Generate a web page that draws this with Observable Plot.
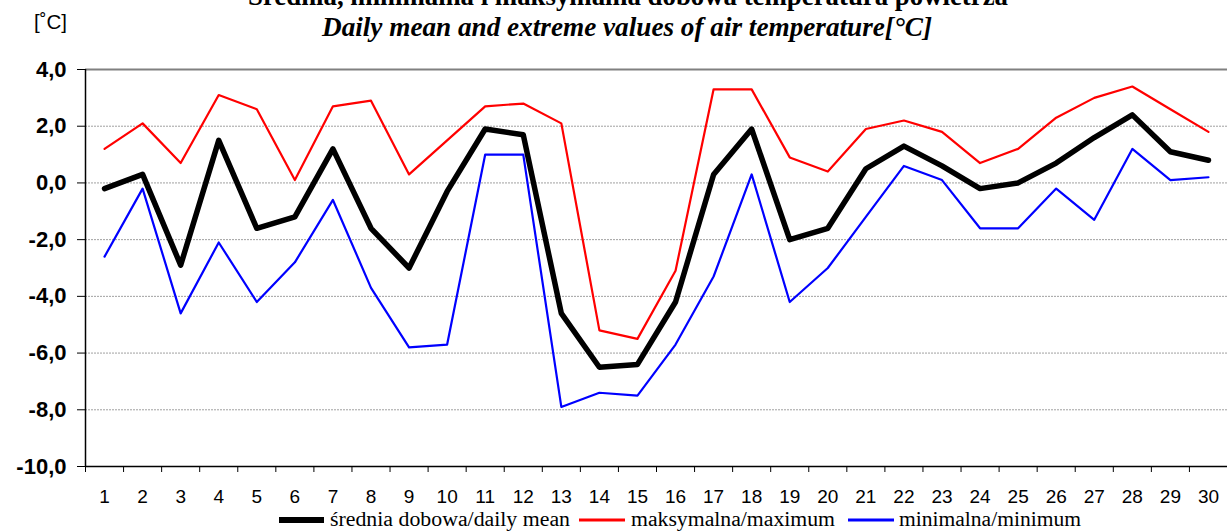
<!DOCTYPE html>
<html><head><meta charset="utf-8">
<script src="https://cdn.jsdelivr.net/npm/d3@7"></script>
<script src="https://cdn.jsdelivr.net/npm/@observablehq/plot@0.6"></script>
<style>
body{margin:0;background:#fff;}
#wrap{position:relative;width:1227px;height:532px;overflow:hidden;}
#wrap > svg{position:absolute;left:0;top:0;}
</style></head><body><div id="wrap"></div>
<script>
const days = [1,2,3,4,5,6,7,8,9,10,11,12,13,14,15,16,17,18,19,20,21,22,23,24,25,26,27,28,29,30];
const meanT = [-0.2,0.3,-2.9,1.5,-1.6,-1.2,1.2,-1.6,-3.0,-0.3,1.9,1.7,-4.6,-6.5,-6.4,-4.2,0.3,1.9,-2.0,-1.6,0.5,1.3,0.6,-0.2,0.0,0.7,1.6,2.4,1.1,0.8];
const maxT  = [1.2,2.1,0.7,3.1,2.6,0.1,2.7,2.9,0.3,1.5,2.7,2.8,2.1,-5.2,-5.5,-3.1,3.3,3.3,0.9,0.4,1.9,2.2,1.8,0.7,1.2,2.3,3.0,3.4,2.6,1.8];
const minT  = [-2.6,-0.2,-4.6,-2.1,-4.2,-2.8,-0.6,-3.7,-5.8,-5.7,1.0,1.0,-7.9,-7.4,-7.5,-5.7,-3.3,0.3,-4.2,-3.0,-1.2,0.6,0.1,-1.6,-1.6,-0.2,-1.3,1.2,0.1,0.2];
const yTicks = [-10,-8,-6,-4,-2,0,2,4];
const titlePl = "Średnia, minimalna i maksymalna dobowa temperatura powietrza";
const titleEn = "Daily mean and extreme values of  air temperature[°C]";
const unitLabel = "[˚C]";
const seriesLabels = ["średnia dobowa/daily mean","maksymalna/maximum","minimalna/minimum"];
const seriesColors = ["#000000","#ff0000","#0000ff"];

const boundaries = days.map(d => d - 0.5).concat([days[days.length-1] + 0.5]);
const fmt = d => d.toFixed(1).replace(".", ",");

const chart = Plot.plot({
  width: 1227, height: 532,
  marginLeft: 85, marginRight: 0, marginTop: 69, marginBottom: 66,
  style: {background: "transparent", fontFamily: "'Liberation Sans', Arial, sans-serif", color: "#000"},
  x: {domain: [boundaries[0], boundaries[boundaries.length-1]]},
  y: {domain: [-10, 4]},
  marks: [
    Plot.gridY(yTicks.filter(t => t > -10 && t < 4), {stroke: "#a0a0a0", strokeOpacity: 1, strokeWidth: 1, strokeDasharray: "2,1"}),
    Plot.ruleY([4], {stroke: "#808080", strokeWidth: 2}),
    Plot.axisY({ticks: yTicks, tickFormat: fmt, tickSize: 8, tickPadding: 11, fontSize: 22, fontWeight: "bold", label: null, stroke: "#000"}),
    Plot.axisX({ticks: boundaries, tickFormat: () => "", tickSize: 6, label: null}),
    Plot.axisX({ticks: days, tickFormat: d => String(d), tickSize: 0, tickPadding: 23, fontSize: 19, label: null}),
    Plot.ruleX([boundaries[0]], {stroke: "#000", strokeWidth: 1.5}),
    Plot.ruleY([-10], {stroke: "#000", strokeWidth: 1.5}),
    Plot.line(days, {x: d => d, y: (d, i) => minT[i], stroke: seriesColors[2], strokeWidth: 2.2}),
    Plot.line(days, {x: d => d, y: (d, i) => maxT[i], stroke: seriesColors[1], strokeWidth: 2.2}),
    Plot.line(days, {x: d => d, y: (d, i) => meanT[i], stroke: seriesColors[0], strokeWidth: 5.5})
  ]
});
const wrap = document.getElementById("wrap");
wrap.appendChild(chart);

// Overlay: titles, unit label and legend
const ov = d3.create("svg").attr("width", 1227).attr("height", 532)
  .style("font-family", "'Liberation Serif', 'Times New Roman', serif");
ov.append("text").attr("x", 628).attr("y", 5).attr("text-anchor", "middle")
  .attr("font-size", 27).attr("font-weight", "bold")
  .attr("textLength", 760).attr("lengthAdjust", "spacingAndGlyphs").text(titlePl);
ov.append("text").attr("x", 627).attr("y", 36).attr("text-anchor", "middle")
  .attr("font-size", 27).attr("font-weight", "bold").attr("font-style", "italic")
  .attr("textLength", 610).attr("lengthAdjust", "spacingAndGlyphs").text(titleEn);
ov.append("text").attr("x", 34).attr("y", 29)
  .attr("font-size", 20).attr("font-family", "'Liberation Sans', Arial, sans-serif")
  .attr("textLength", 33).attr("lengthAdjust", "spacingAndGlyphs").text(unitLabel);

const legendItems = [
  {x0: 279, x1: 324, tx: 330, tw: 240, w: 6},
  {x0: 579, x1: 625, tx: 631, tw: 204, w: 3},
  {x0: 848, x1: 894, tx: 899, tw: 182, w: 3}
];
const ly = 520;
legendItems.forEach((it, i) => {
  ov.append("line").attr("x1", it.x0).attr("x2", it.x1).attr("y1", ly).attr("y2", ly)
    .attr("stroke", seriesColors[i]).attr("stroke-width", it.w);
  ov.append("text").attr("x", it.tx).attr("y", ly + 6).attr("font-size", 20)
    .attr("textLength", it.tw).attr("lengthAdjust", "spacingAndGlyphs").text(seriesLabels[i]);
});
wrap.appendChild(ov.node());
</script></body></html>
